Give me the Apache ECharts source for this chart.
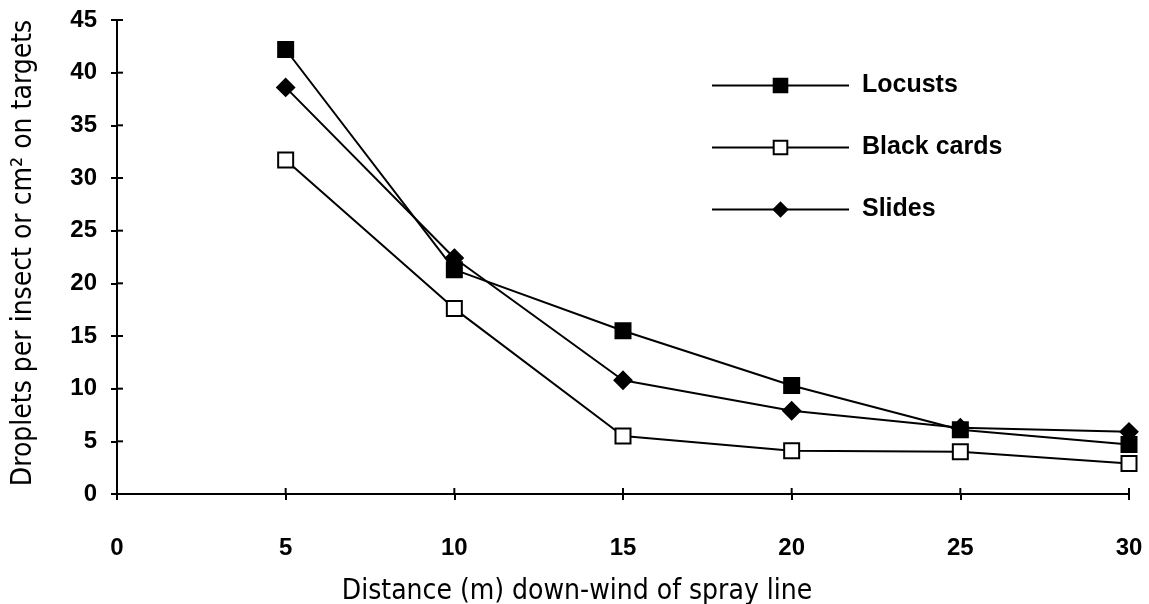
<!DOCTYPE html>
<html>
<head>
<meta charset="utf-8">
<script src="https://cdn.jsdelivr.net/npm/echarts@6/dist/echarts.min.js"></script>
<style>html,body{margin:0;padding:0;background:#fff}#c{width:1149px;height:604px}</style>
</head>
<body>
<div id="c"></div>
<script>
const distances = [5, 10, 15, 20, 25, 30];
const locusts = [42.2, 21.3, 15.5, 10.3, 6.1, 4.7];
const blackCards = [31.7, 17.6, 5.5, 4.1, 4.0, 2.9];
const slides = [38.6, 22.4, 10.8, 7.9, 6.3, 5.9];
const seriesNames = ['Locusts', 'Black cards', 'Slides'];
const xTicks = [0, 5, 10, 15, 20, 25, 30];
const yTicks = [0, 5, 10, 15, 20, 25, 30, 35, 40, 45];
const xTitle = 'Distance (m) down-wind of spray line';
const yTitle = 'Droplets per insect or cm\u00b2 on targets';

const pairs = arr => distances.map((d, i) => [d, arr[i]]);
const tickFont = {color: '#000', fontSize: 24, fontWeight: 'bold', fontFamily: 'Liberation Sans, Arial, sans-serif'};
const nameFamily = 'DejaVu Sans Condensed, Liberation Sans Narrow, sans-serif';

const chart = echarts.init(document.getElementById('c'), null, {renderer: 'canvas'});
const mkSeries = (name, data, symbol, fill) => ({
  name, type: 'line', data: pairs(data), symbol, symbolSize: symbol === 'diamond' ? 17 : 15,
  lineStyle: {color: '#000', width: 2},
  itemStyle: {color: fill, borderColor: '#000', borderWidth: 2},
  emphasis: {disabled: true}, z: 3
});
chart.setOption({
  animation: false,
  backgroundColor: '#fff',
  grid: {left: 117, right: 20, top: 20, bottom: 110, containLabel: false, outerBoundsMode: 'none'},
  legend: {
    orient: 'vertical', left: 706, top: 68, itemWidth: 137, itemHeight: 17, itemGap: 37,
    textStyle: {color: '#000', fontSize: 25, fontWeight: 'bold', fontFamily: 'Liberation Sans, Arial, sans-serif', padding: [0, 0, 0, 8]},
    data: seriesNames
  },
  xAxis: {
    type: 'value', min: 0, max: 30, interval: 5,
    name: xTitle, nameLocation: 'middle', nameGap: 84,
    nameTextStyle: {color: '#000', fontSize: 28, fontFamily: nameFamily, padding: [0, 92, 0, 0]},
    axisLine: {lineStyle: {color: '#000', width: 2}},
    axisTick: {show: true, length: 6, lineStyle: {color: '#000', width: 2}},
    axisLabel: Object.assign({margin: 42}, tickFont),
    splitLine: {show: false}
  },
  yAxis: {
    type: 'value', min: 0, max: 45, interval: 5,
    name: yTitle, nameLocation: 'middle', nameGap: 79, nameRotate: 90,
    nameTextStyle: {color: '#000', fontSize: 28, fontFamily: nameFamily, padding: [0, 0, 0, 8]},
    axisLine: {lineStyle: {color: '#000', width: 2}},
    axisTick: {show: true, length: 6, lineStyle: {color: '#000', width: 2}},
    axisLabel: Object.assign({margin: 20}, tickFont),
    splitLine: {show: false}
  },
  series: [
    mkSeries(seriesNames[0], locusts, 'rect', '#000'),
    mkSeries(seriesNames[1], blackCards, 'rect', '#fff'),
    mkSeries(seriesNames[2], slides, 'diamond', '#000')
  ]
});
// inner halves of the crossing ticks, placed through the chart's own scales
const inner = [];
xTicks.forEach(v => {
  const p = chart.convertToPixel({gridIndex: 0}, [v, 0]);
  inner.push({type: 'line', shape: {x1: p[0], y1: p[1], x2: p[0], y2: p[1] - 6}, style: {stroke: '#000', lineWidth: 2}, silent: true});
});
yTicks.forEach(v => {
  const p = chart.convertToPixel({gridIndex: 0}, [0, v]);
  inner.push({type: 'line', shape: {x1: p[0], y1: p[1], x2: p[0] + 6, y2: p[1]}, style: {stroke: '#000', lineWidth: 2}, silent: true});
});
chart.setOption({graphic: inner});
</script>
</body>
</html>
